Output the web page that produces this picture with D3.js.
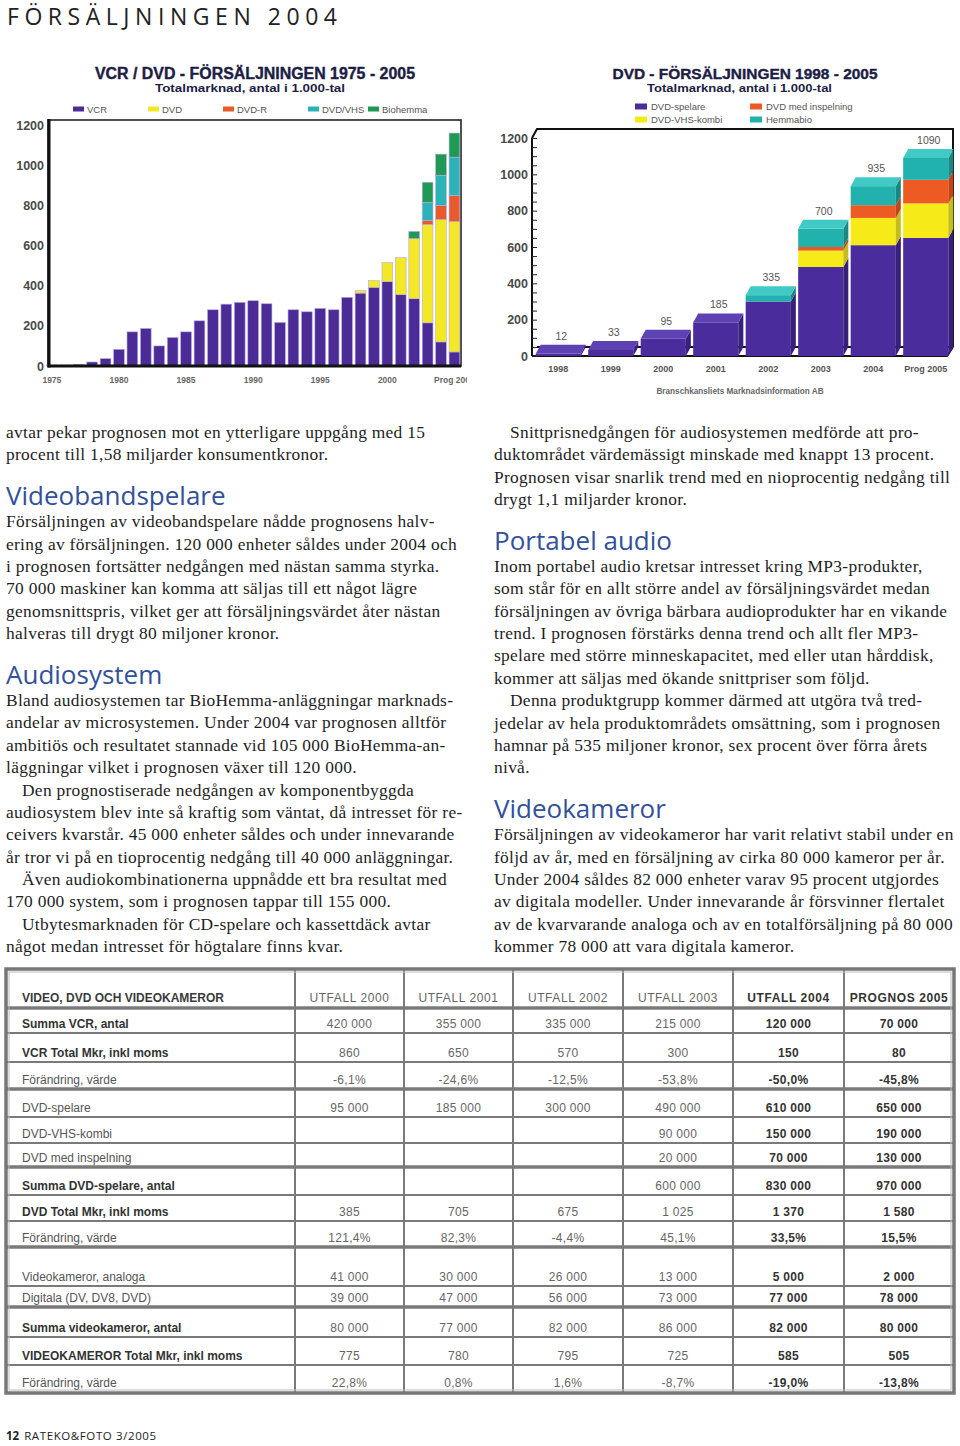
<!DOCTYPE html>
<html><head><meta charset="utf-8">
<script src="https://cdn.jsdelivr.net/npm/d3@7"></script>
<style>
body{margin:0;background:#fff;}
svg{display:block;}
</style></head><body>
<svg id="page" width="960" height="1446"></svg>
<script>
// ================= DATA =================
const pageTitle = "FÖRSÄLJNINGEN 2004";
const footerNum = "12";
const footerText = "RATEKO&FOTO 3/2005";

// Left chart: VCR / DVD 1975-2005 (antal i 1.000-tal)
const leftTitle = "VCR / DVD - FÖRSÄLJNINGEN 1975 - 2005";
const leftSubtitle = "Totalmarknad, antal i 1.000-tal";
const years = [1975,1976,1977,1978,1979,1980,1981,1982,1983,1984,1985,1986,1987,1988,1989,1990,
               1991,1992,1993,1994,1995,1996,1997,1998,1999,2000,2001,2002,2003,2004,2005];
const vcr      = [5,5,8,20,37,83,170,187,100,142,170,225,280,308,317,325,310,217,280,270,287,280,342,363,392,420,355,335,215,120,70];
const dvd      = [0,0,0,0,0,0,0,0,0,0,0,0,0,0,0,0,0,0,0,0,0,0,0,12,33,95,185,300,490,610,650];
const dvdR     = [0,0,0,0,0,0,0,0,0,0,0,0,0,0,0,0,0,0,0,0,0,0,0,0,0,0,0,0,20,70,130];
const dvdVhs   = [0,0,0,0,0,0,0,0,0,0,0,0,0,0,0,0,0,0,0,0,0,0,0,0,0,0,0,0,90,150,190];
const biohemma = [0,0,0,0,0,0,0,0,0,0,0,0,0,0,0,0,0,0,0,0,0,0,0,0,0,0,0,35,100,105,120];
const leftKeys = ["VCR","DVD","DVD-R","DVD/VHS","Biohemma"];
const leftYTicks = [0,200,400,600,800,1000,1200];
const leftXTicks = [1975,1980,1985,1990,1995,2000,2005];
const leftXTickLabels = ["1975","1980","1985","1990","1995","2000","Prog 2005"];

// Right chart: DVD 1998-2005
const rightTitle = "DVD - FÖRSÄLJNINGEN 1998 - 2005";
const rightSubtitle = "Totalmarknad, antal i 1.000-tal";
const rightSource = "Branschkansliets Marknadsinformation AB";
const dvdYears = ["1998","1999","2000","2001","2002","2003","2004","Prog 2005"];
const dvdSpelare   = [12,33,95,185,300,490,610,650];
const dvdVhsKombi  = [0,0,0,0,0,90,150,190];
const dvdInspelning= [0,0,0,0,0,20,70,130];
const hemmabio     = [0,0,0,0,35,100,105,120];
const rightKeys = ["DVD-spelare","DVD-VHS-kombi","DVD med inspelning","Hemmabio"];
const rightYTicks = [0,200,400,600,800,1000,1200];

// Body text
const leftColumn = [
  ["p","avtar pekar prognosen mot en ytterligare uppgång med 15"],
  ["p","procent till 1,58 miljarder konsumentkronor."],
  ["h","Videobandspelare"],
  ["p","Försäljningen av videobandspelare nådde prognosens halv-"],
  ["p","ering av försäljningen. 120 000 enheter såldes under 2004 och"],
  ["p","i prognosen fortsätter nedgången med nästan samma styrka."],
  ["p","70 000 maskiner kan komma att säljas till ett något lägre"],
  ["p","genomsnittspris, vilket ger att försäljningsvärdet åter nästan"],
  ["p","halveras till drygt 80 miljoner kronor."],
  ["h","Audiosystem"],
  ["p","Bland audiosystemen tar BioHemma-anläggningar marknads-"],
  ["p","andelar av microsystemen. Under 2004 var prognosen alltför"],
  ["p","ambitiös och resultatet stannade vid 105 000 BioHemma-an-"],
  ["p","läggningar vilket i prognosen växer till 120 000."],
  ["i","Den prognostiserade nedgången av komponentbyggda"],
  ["p","audiosystem blev inte så kraftig som väntat, då intresset för re-"],
  ["p","ceivers kvarstår. 45 000 enheter såldes och under innevarande"],
  ["p","år tror vi på en tioprocentig nedgång till 40 000 anläggningar."],
  ["i","Även audiokombinationerna uppnådde ett bra resultat med"],
  ["p","170 000 system, som i prognosen tappar till 155 000."],
  ["i","Utbytesmarknaden för CD-spelare och kassettdäck avtar"],
  ["p","något medan intresset för högtalare finns kvar."]
];
const rightColumn = [
  ["i","Snittprisnedgången för audiosystemen medförde att pro-"],
  ["p","duktområdet värdemässigt minskade med knappt 13 procent."],
  ["p","Prognosen visar snarlik trend med en nioprocentig nedgång till"],
  ["p","drygt 1,1 miljarder kronor."],
  ["h","Portabel audio"],
  ["p","Inom portabel audio kretsar intresset kring MP3-produkter,"],
  ["p","som står för en allt större andel av försäljningsvärdet medan"],
  ["p","försäljningen av övriga bärbara audioprodukter har en vikande"],
  ["p","trend. I prognosen förstärks denna trend och allt fler MP3-"],
  ["p","spelare med större minneskapacitet, med eller utan hårddisk,"],
  ["p","kommer att säljas med ökande snittpriser som följd."],
  ["i","Denna produktgrupp kommer därmed att utgöra två tred-"],
  ["p","jedelar av hela produktområdets omsättning, som i prognosen"],
  ["p","hamnar på 535 miljoner kronor, sex procent över förra årets"],
  ["p","nivå."],
  ["h","Videokameror"],
  ["p","Försäljningen av videokameror har varit relativt stabil under en"],
  ["p","följd av år, med en försäljning av cirka 80 000 kameror per år."],
  ["p","Under 2004 såldes 82 000 enheter varav 95 procent utgjordes"],
  ["p","av digitala modeller. Under innevarande år försvinner flertalet"],
  ["p","av de kvarvarande analoga och av en totalförsäljning på 80 000"],
  ["p","kommer 78 000 att vara digitala kameror."]
];

// Table
const tableHeader = ["VIDEO, DVD OCH VIDEOKAMEROR","UTFALL 2000","UTFALL 2001","UTFALL 2002","UTFALL 2003","UTFALL 2004","PROGNOS 2005"];
const tableLabels = [
  "Summa VCR, antal","VCR Total Mkr, inkl moms","Förändring, värde",
  "DVD-spelare","DVD-VHS-kombi","DVD med inspelning","Summa DVD-spelare, antal",
  "DVD Total Mkr, inkl moms","Förändring, värde",
  "Videokameror, analoga","Digitala (DV, DV8, DVD)","Summa videokameror, antal",
  "VIDEOKAMEROR Total Mkr, inkl moms","Förändring, värde"
];
const tableValues = [
  ["420 000","355 000","335 000","215 000","120 000","70 000"],
  ["860","650","570","300","150","80"],
  ["-6,1%","-24,6%","-12,5%","-53,8%","-50,0%","-45,8%"],
  ["95 000","185 000","300 000","490 000","610 000","650 000"],
  ["","","","90 000","150 000","190 000"],
  ["","","","20 000","70 000","130 000"],
  ["","","","600 000","830 000","970 000"],
  ["385","705","675","1 025","1 370","1 580"],
  ["121,4%","82,3%","-4,4%","45,1%","33,5%","15,5%"],
  ["41 000","30 000","26 000","13 000","5 000","2 000"],
  ["39 000","47 000","56 000","73 000","77 000","78 000"],
  ["80 000","77 000","82 000","86 000","82 000","80 000"],
  ["775","780","795","725","585","505"],
  ["22,8%","0,8%","1,6%","-8,7%","-19,0%","-13,8%"]
];

// ================= DRAWING =================
const svg = d3.select('#page');
const SANS = "'Liberation Sans', Arial, sans-serif";
const SERIF = "'Liberation Serif', 'Times New Roman', serif";
const HEAD = "'Open Sans', 'Noto Sans', sans-serif";

svg.append('rect').attr('width',960).attr('height',1446).attr('fill','#fff');

// Page title
svg.append('text').attr('x',7).attr('y',24.5)
  .attr('font-family',HEAD).attr('font-size',23).attr('fill','#222')
  .attr('textLength',330).attr('lengthAdjust','spacing')
  .text(pageTitle);

// ---------- Left chart ----------
const leftColors = {"VCR":"#4b2c97","DVD":"#f3e826","DVD-R":"#e85a2c","DVD/VHS":"#2bb3b8","Biohemma":"#1e9a55"};
const leftG = svg.append('g');
svg.append('clipPath').attr('id','clipL').append('rect').attr('x',0).attr('y',50).attr('width',467).attr('height',360);
leftG.attr('clip-path','url(#clipL)');

leftG.append('text').attr('x',255).attr('y',79).attr('text-anchor','middle')
  .attr('font-family',SANS).attr('font-weight','bold').attr('font-size',16).attr('fill','#1d1d45')
  .attr('stroke','#1d1d45').attr('stroke-width',0.4)
  .attr('textLength',320).attr('lengthAdjust','spacingAndGlyphs').text(leftTitle);
leftG.append('text').attr('x',250).attr('y',92).attr('text-anchor','middle')
  .attr('font-family',SANS).attr('font-weight','bold').attr('font-size',11.5).attr('fill','#1d1d45')
  .attr('textLength',190).attr('lengthAdjust','spacingAndGlyphs').text(leftSubtitle);

const leftLegendX = [73,148,223,308,368];
leftKeys.forEach((k,i)=>{
  leftG.append('rect').attr('x',leftLegendX[i]).attr('y',106.5).attr('width',11).attr('height',5).attr('fill',leftColors[k]);
  leftG.append('text').attr('x',leftLegendX[i]+14).attr('y',112.5)
    .attr('font-family',SANS).attr('font-size',9.5).attr('fill','#555').text(k);
});

const xL = d3.scaleBand().domain(years).range([46.5,459.8]).paddingInner(0.2).paddingOuter(0);
const yL = d3.scaleLinear().domain([0,1225]).range([366,120]);

const leftRows = years.map((y,i)=>({year:y,"VCR":vcr[i],"DVD":dvd[i],"DVD-R":dvdR[i],"DVD/VHS":dvdVhs[i],"Biohemma":biohemma[i]}));
const leftStack = d3.stack().keys(leftKeys)(leftRows);

// frame
leftG.append('rect').attr('x',48).attr('y',120).attr('width',413).attr('height',246)
  .attr('fill','#fff').attr('stroke','#222').attr('stroke-width',1.6);

leftG.append('g').selectAll('g').data(leftStack).join('g')
  .attr('fill',d=>leftColors[d.key])
  .selectAll('rect').data(d=>d.filter(s=>s[1]-s[0]>0)).join('rect')
  .attr('x',d=>xL(d.data.year)).attr('width',xL.bandwidth())
  .attr('y',d=>yL(d[1])).attr('height',d=>yL(d[0])-yL(d[1]))
  .attr('stroke','#b9a9e6').attr('stroke-width',0.6);

leftG.append('line').attr('x1',49).attr('x2',49).attr('y1',119).attr('y2',367.5).attr('stroke','#111').attr('stroke-width',3);
leftG.append('line').attr('x1',47.5).attr('x2',461).attr('y1',366).attr('y2',366).attr('stroke','#111').attr('stroke-width',3);

const yAxL = leftG.append('g').attr('transform','translate(44,0)')
  .call(d3.axisLeft(yL).tickValues(leftYTicks).tickSize(0).tickPadding(0).tickFormat(d3.format('d')));
yAxL.select('.domain').remove();
yAxL.selectAll('text').attr('font-family',SANS).attr('font-size',12.5).attr('font-weight','bold').attr('fill','#4a4a4a');

const xAxL = leftG.append('g').attr('transform','translate(0,373)')
  .call(d3.axisBottom(xL).tickValues(leftXTicks).tickSize(0).tickPadding(4)
    .tickFormat(d=>leftXTickLabels[leftXTicks.indexOf(d)]));
xAxL.select('.domain').remove();
xAxL.selectAll('text').attr('font-family',SANS).attr('font-size',8.5).attr('font-weight','bold').attr('fill','#666');

// ---------- Right chart ----------
const rc = {
  "DVD-spelare":       {f:"#4b2c9c", s:"#36207a", t:"#5e42b4"},
  "DVD-VHS-kombi":     {f:"#f6ea18", s:"#c4bd1c", t:"#faf26a"},
  "DVD med inspelning":{f:"#ee5a24", s:"#c4441a", t:"#f47c4c"},
  "Hemmabio":          {f:"#22b2ae", s:"#178884", t:"#40c9c5"}
};
const rG = svg.append('g');
rG.append('text').attr('x',745).attr('y',79).attr('text-anchor','middle')
  .attr('font-family',SANS).attr('font-weight','bold').attr('font-size',15.5).attr('fill','#1d1d45')
  .attr('stroke','#1d1d45').attr('stroke-width',0.4)
  .attr('textLength',265).attr('lengthAdjust','spacingAndGlyphs').text(rightTitle);
rG.append('text').attr('x',739.5).attr('y',92).attr('text-anchor','middle')
  .attr('font-family',SANS).attr('font-weight','bold').attr('font-size',11.5).attr('fill','#1d1d45')
  .attr('textLength',185).attr('lengthAdjust','spacingAndGlyphs').text(rightSubtitle);

const rLegPos = [[635,106.5],[635,119.5],[750,106.5],[750,119.5]];
rightKeys.forEach((k,i)=>{
  rG.append('rect').attr('x',rLegPos[i][0]).attr('y',rLegPos[i][1]-3).attr('width',12).attr('height',6).attr('fill',rc[k].f);
  rG.append('text').attr('x',rLegPos[i][0]+16).attr('y',rLegPos[i][1]+3.5)
    .attr('font-family',SANS).attr('font-size',9.5).attr('fill','#555').text(k);
});

const xR = d3.scaleBand().domain(dvdYears).range([532,952]).paddingInner(0.14).paddingOuter(0.07);
const yR = d3.scaleLinear().domain([0,1200]).range([356,138]);
const DX = 5, DY = -9;

// back wall frame
rG.append('polyline').attr('points',`532,${yR(1200)} 537,129 953,129 953,347`)
  .attr('fill','none').attr('stroke','#111').attr('stroke-width',2);
// floor
rG.append('line').attr('x1',537).attr('x2',953).attr('y1',347).attr('y2',347).attr('stroke','#111').attr('stroke-width',2);
rG.append('polyline').attr('points',`532,356 947,356 953,347`).attr('fill','none').attr('stroke','#111').attr('stroke-width',2);
// axis line + minor ticks
rG.append('line').attr('x1',532).attr('x2',532).attr('y1',yR(1200)).attr('y2',yR(0)).attr('stroke','#111').attr('stroke-width',2);
const minorR = rG.append('g').attr('transform','translate(532,0)')
  .call(d3.axisRight(yR).ticks(24).tickSize(5).tickFormat(''));
minorR.select('.domain').remove();
minorR.selectAll('line').attr('stroke','#222').attr('stroke-width',1);

const yAxR = rG.append('g').attr('transform','translate(528,0)')
  .call(d3.axisLeft(yR).tickValues(rightYTicks).tickSize(0).tickPadding(0).tickFormat(d3.format('d')));
yAxR.select('.domain').remove();
yAxR.selectAll('text').attr('font-family',SANS).attr('font-size',12.5).attr('font-weight','bold').attr('fill','#4a4a4a');

const rightRows = dvdYears.map((y,i)=>({year:y,"DVD-spelare":dvdSpelare[i],"DVD-VHS-kombi":dvdVhsKombi[i],"DVD med inspelning":dvdInspelning[i],"Hemmabio":hemmabio[i]}));
const rightStack = d3.stack().keys(rightKeys)(rightRows);
const bw = xR.bandwidth();
rightRows.forEach((row,i)=>{
  const x0 = xR(row.year);
  const segs = rightStack.map(s=>({key:s.key, a:s[i][0], b:s[i][1]})).filter(s=>s.b-s.a>0);
  const bg = rG.append('g');
  segs.forEach(s=>{
    const yTop = yR(s.b), yBot = yR(s.a);
    bg.append('rect').attr('x',x0).attr('y',yTop).attr('width',bw).attr('height',yBot-yTop).attr('fill',rc[s.key].f);
    bg.append('polygon').attr('points',
      `${x0+bw},${yBot} ${x0+bw+DX},${yBot+DY} ${x0+bw+DX},${yTop+DY} ${x0+bw},${yTop}`).attr('fill',rc[s.key].s);
  });
  const top = segs[segs.length-1];
  const yT = yR(top.b);
  bg.append('polygon').attr('points',
    `${x0},${yT} ${x0+DX},${yT+DY} ${x0+bw+DX},${yT+DY} ${x0+bw},${yT}`).attr('fill',rc[top.key].t);
  const total = d3.sum(rightKeys, k=>row[k]);
  rG.append('text').attr('x',x0+bw/2+3).attr('y',yR(total)-14)
    .attr('text-anchor','middle').attr('font-family',SANS).attr('font-size',10.5).attr('fill','#555')
    .text(total);
});

const xAxR = rG.append('g').attr('transform','translate(0,362)')
  .call(d3.axisBottom(xR).tickSize(0).tickPadding(4));
xAxR.select('.domain').remove();
xAxR.selectAll('text').attr('font-family',SANS).attr('font-size',9).attr('font-weight','bold').attr('fill','#555');

rG.append('text').attr('x',740).attr('y',393.5).attr('text-anchor','middle')
  .attr('font-family',SANS).attr('font-size',8.2).attr('font-weight','bold').attr('fill','#666').text(rightSource);

// ---------- Body text ----------
function drawColumn(lines, x0){
  let cur = 433, prev = null;
  lines.forEach((ln,idx)=>{
    const [k,t] = ln;
    if(idx>0){
      if(k==='h') cur += 40.5;
      else if(prev==='h') cur += 26.5;
      else cur += 22.35;
    }
    if(k==='h'){
      svg.append('text').attr('x',x0).attr('y',cur+9)
        .attr('font-family',HEAD).attr('font-size',26).attr('fill','#33519a').text(t);
    } else {
      svg.append('text').attr('x',k==='i'? x0+16 : x0).attr('y',cur+5)
        .attr('font-family',SERIF).attr('font-size',17.4).attr('letter-spacing',0.3)
        .attr('fill','#1e1e1e').text(t);
    }
    prev = k;
  });
}
drawColumn(leftColumn, 6);
drawColumn(rightColumn, 494);

// ---------- Table ----------
const colBounds = [6,295,404,513,623,733,844,954];
const rowBounds = [970,1008,1033,1062,1089,1117,1143,1167,1195,1221,1247,1286,1307,1337,1365,1392];
const thickRows = [1008,1089,1167,1247,1307];
const boldRows = [0,1,6,7,11,12];
const tG = svg.append('g');
const LC = '#7a7a7a';
rowBounds.slice(1,-1).forEach(y=>{
  tG.append('line').attr('x1',6).attr('x2',954).attr('y1',y).attr('y2',y)
    .attr('stroke',LC).attr('stroke-width',thickRows.includes(y)?3.5:1.8);
});
colBounds.slice(1,-1).forEach(x=>{
  tG.append('line').attr('x1',x).attr('x2',x).attr('y1',970).attr('y2',1392)
    .attr('stroke',LC).attr('stroke-width',2);
});
tG.append('rect').attr('x',6).attr('y',969).attr('width',948).attr('height',424)
  .attr('fill','none').attr('stroke','#777').attr('stroke-width',3.5);
tG.append('rect').attr('x',9).attr('y',972).attr('width',942).attr('height',418)
  .attr('fill','none').attr('stroke','#bbb').attr('stroke-width',1);

const colCenter = i => (colBounds[i+1]+colBounds[i+2])/2;
// header
tG.append('text').attr('x',22).attr('y',rowBounds[1]-6).attr('font-family',SANS).attr('font-size',12)
  .attr('font-weight','bold').attr('fill','#3a3a3a').text(tableHeader[0]);
tableHeader.slice(1).forEach((h,i)=>{
  tG.append('text').attr('x',colCenter(i)).attr('y',rowBounds[1]-6).attr('text-anchor','middle')
    .attr('font-family',SANS).attr('font-size',12).attr('letter-spacing',0.6)
    .attr('font-weight',i>=4?'bold':'normal').attr('fill',i>=4?'#333':'#666').text(h);
});
tableLabels.forEach((lab,r)=>{
  const yb = rowBounds[r+2]-5;
  const bold = boldRows.includes(r);
  tG.append('text').attr('x',22).attr('y',yb).attr('font-family',SANS).attr('font-size',12)
    .attr('font-weight',bold?'bold':'normal').attr('fill',bold?'#333':'#555').text(lab);
  tableValues[r].forEach((v,c)=>{
    if(!v) return;
    tG.append('text').attr('x',colCenter(c)).attr('y',yb).attr('text-anchor','middle')
      .attr('font-family',SANS).attr('font-size',12).attr('letter-spacing',0.3)
      .attr('font-weight',c>=4?'bold':'normal').attr('fill',c>=4?'#333':'#666').text(v);
  });
});

// ---------- Footer ----------
const ft = svg.append('text').attr('x',6).attr('y',1440).attr('font-family',HEAD).attr('font-size',11.5).attr('fill','#222');
ft.append('tspan').attr('font-weight','bold').text(footerNum);
ft.append('tspan').attr('dx',5).attr('letter-spacing',0.6).text(footerText);
</script>
</body></html>
